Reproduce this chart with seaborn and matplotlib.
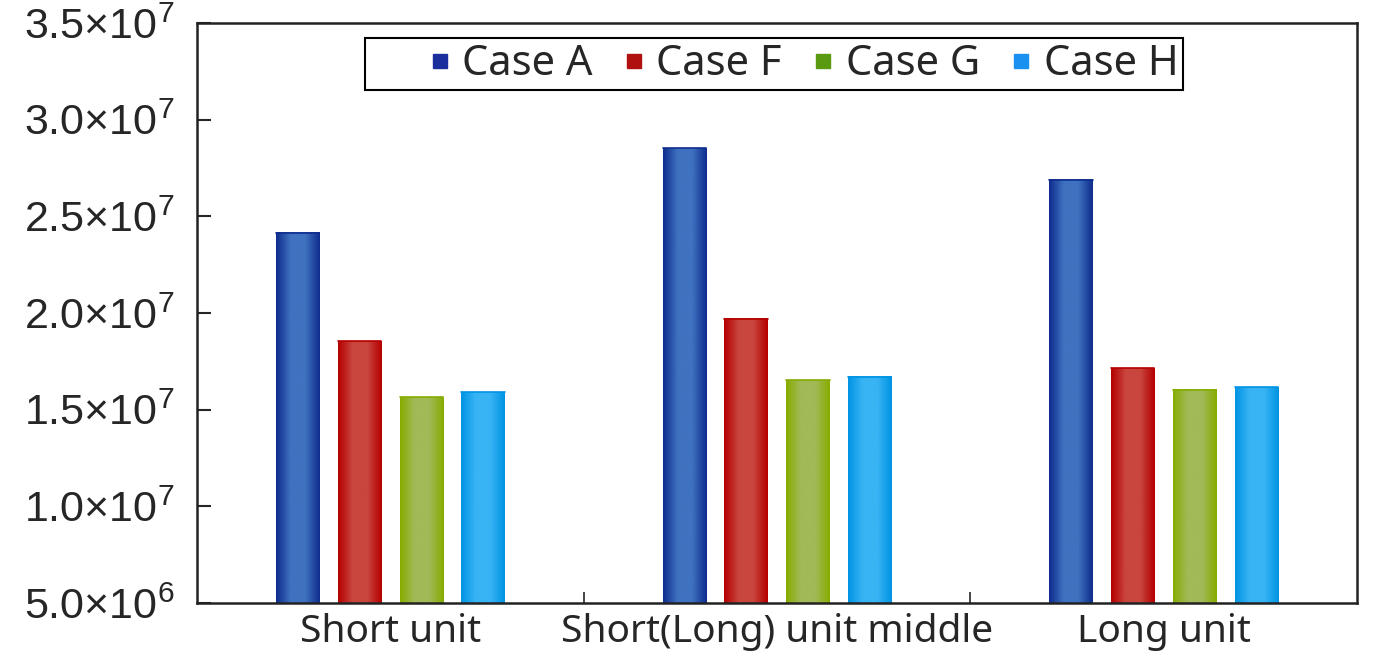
import numpy as np
import pandas as pd
import matplotlib
matplotlib.use('Agg')
import matplotlib.pyplot as plt
import seaborn as sns
from matplotlib.colors import LinearSegmentedColormap
from matplotlib.lines import Line2D
from matplotlib.patches import Rectangle

groups = ['Short unit', 'Short(Long) unit middle', 'Long unit']
cases = ['Case A', 'Case F', 'Case G', 'Case H']
case_a = [2.414e7, 2.853e7, 2.688e7]
case_f = [1.855e7, 1.969e7, 1.715e7]
case_g = [1.565e7, 1.653e7, 1.602e7]
case_h = [1.591e7, 1.669e7, 1.617e7]
y_ticks = [5e6, 1e7, 1.5e7, 2e7, 2.5e7, 3e7, 3.5e7]
y_tick_labels = [r'$5.0{\times}10^{6}$', r'$1.0{\times}10^{7}$', r'$1.5{\times}10^{7}$',
                 r'$2.0{\times}10^{7}$', r'$2.5{\times}10^{7}$', r'$3.0{\times}10^{7}$',
                 r'$3.5{\times}10^{7}$']

# dark edge / light centre of each bar, plus legend marker colour
dark = ['#0f2d8e', '#b50000', '#86ac00', '#0094e4']
light = ['#3f72c0', '#c9463f', '#a2ba58', '#38b4f4']
marker_col = ['#1a2f9c', '#b01010', '#5a9a10', '#1a90f0']

df = pd.DataFrame({
    'group': groups * 4,
    'case': [c for c in cases for _ in groups],
    'value': case_a + case_f + case_g + case_h,
})

sns.set_style('white')
plt.rcParams['font.family'] = ['Liberation Sans', 'DejaVu Sans']
plt.rcParams['mathtext.fontset'] = 'custom'
plt.rcParams['mathtext.rm'] = 'Liberation Sans'
plt.rcParams['mathtext.it'] = 'Liberation Sans'

fig = plt.figure(figsize=(13.73, 6.71), dpi=100)
ax = fig.add_axes([197 / 1373, 1 - 603 / 671, (1357 - 197) / 1373, (603 - 23) / 671])

sns.barplot(data=df, x='group', y='value', hue='case', order=groups, hue_order=cases,
            palette=light, width=0.64, gap=0.3, ax=ax, legend=False,
            edgecolor='none', linewidth=0)

ax.set_xlim(-0.5, 2.5)
ax.set_ylim(5e6, 3.5e7)
ybot = ax.get_ylim()[0]

# cylinder-like shading on every bar
grad = np.linspace(0, 1, 64).reshape(1, -1)
for i, patch in enumerate(ax.patches):
    k = i // len(groups)
    cmap = LinearSegmentedColormap.from_list('b', [dark[k], light[k], light[k], dark[k]])
    x0 = patch.get_x()
    w, top = patch.get_width(), patch.get_y() + patch.get_height()
    ax.imshow(grad, cmap=cmap, aspect='auto', extent=(x0, x0 + w, ybot, top),
              interpolation='bicubic', zorder=patch.get_zorder() + 0.1)
    ax.plot([x0, x0 + w], [top, top], color=dark[k], lw=1.2, zorder=3)
ax.set_xlim(-0.5, 2.5)
ax.set_ylim(5e6, 3.5e7)

ax.set_yticks(y_ticks)
ax.set_yticklabels(y_tick_labels, fontsize=31)
ax.set_xticks([0, 1, 2])
ax.set_xticklabels(groups, fontsize=28)
ax.set_xticks([0.5, 1.5], minor=True)
ax.tick_params(axis='x', which='major', length=0, pad=7)
ax.tick_params(axis='x', which='minor', direction='in', length=8, width=1.2, bottom=True)
ax.tick_params(axis='y', direction='in', length=10, width=1.5, left=True, pad=16)
for lab in ax.get_xticklabels():
    lab.set_family(['Noto Sans', 'DejaVu Sans'])
ax.set_xlabel('')
ax.set_ylabel('')
for s in ax.spines.values():
    s.set_color('#222222')
    s.set_linewidth(1.8)

# legend: entries without frame, box drawn separately (wider on the left, as in the original)
handles = [Line2D([], [], marker='s', ls='none', color=c, markersize=10.5) for c in marker_col]
leg = ax.legend(handles, cases, loc='center left', ncol=4, frameon=False,
                prop={'family': ['Noto Sans', 'DejaVu Sans'], 'size': 30},
                handletextpad=0.25, columnspacing=0.7, handlelength=0.58,
                borderpad=0, borderaxespad=0, bbox_to_anchor=(0.1987, 0.929))
ax.add_patch(Rectangle((0.1448, 0.8845), 0.7052, 0.0895, transform=ax.transAxes,
                       facecolor='white', edgecolor='black', lw=1.5, zorder=4))
leg.set_zorder(5)

fig.savefig('out.png', dpi=100)
